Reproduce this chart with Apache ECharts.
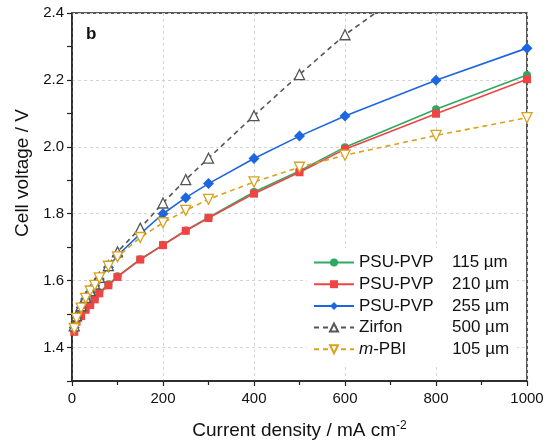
<!DOCTYPE html>
<html>
<head>
<meta charset="utf-8">
<script src="https://cdn.jsdelivr.net/npm/echarts@6/dist/echarts.min.js"></script>
<style>
  html, body { margin: 0; padding: 0; background: #fff; }
  #chart { width: 552px; height: 447px; }
</style>
</head>
<body>
<div id="chart"></div>
<script>
// current density, mA cm-2
const currentDensity = [5, 10, 20, 30, 40, 50, 60, 80, 100, 150, 200, 250, 300, 400, 500, 600, 800, 1000];

// cell voltage, V
const psuPvp115 = [1.450, 1.480, 1.497, 1.516, 1.530, 1.547, 1.565, 1.589, 1.613, 1.664, 1.707, 1.750, 1.789, 1.865, 1.928, 1.999, 2.112, 2.215];
const psuPvp210 = [1.447, 1.477, 1.494, 1.513, 1.527, 1.544, 1.562, 1.586, 1.611, 1.663, 1.706, 1.749, 1.787, 1.860, 1.924, 1.993, 2.099, 2.202];
const psuPvp255 = [1.460, 1.490, 1.520, 1.545, 1.565, 1.585, 1.605, 1.640, 1.675, 1.740, 1.800, 1.848, 1.890, 1.965, 2.032, 2.092, 2.199, 2.295];
const zirfon = [1.465, 1.495, 1.525, 1.550, 1.570, 1.590, 1.610, 1.645, 1.686, 1.757, 1.832, 1.902, 1.966, 2.093, 2.216, 2.335, 2.530];
const mPbi = [1.457, 1.487, 1.518, 1.547, 1.569, 1.586, 1.608, 1.643, 1.671, 1.729, 1.773, 1.810, 1.843, 1.895, 1.939, 1.975, 2.034, 2.087];

const seriesNames = ["PSU-PVP 115", "PSU-PVP 210", "PSU-PVP 255", "Zirfon 500", "m-PBI 105"];
const membranes = ["PSU-PVP", "PSU-PVP", "PSU-PVP", "Zirfon", "m-PBI"];
const thickness = ["115 µm", "210 µm", "255 µm", "500 µm", "105 µm"];

const font = 'Arial, "Liberation Sans", sans-serif';

function pairs(values) {
  return values.map((v, i) => [currentDensity[i], v]);
}

let chart = echarts.init(document.getElementById("chart"));

chart.setOption({
  animation: false,
  backgroundColor: "#fff",
  textStyle: { fontFamily: font },
  title: {
    text: "b",
    left: 81,
    top: 21,
    textStyle: { fontSize: 17, fontWeight: "bold", color: "#111", fontFamily: font }
  },
  grid: {
    left: 72,
    right: 25,
    top: 13,
    bottom: 66,
    show: true,
    borderColor: "#222",
    borderWidth: 1.5
  },
  legend: {
    orient: "vertical",
    left: 307,
    top: 248,
    padding: [6, 8, 6, 6],
    backgroundColor: "#fff",
    itemWidth: 40,
    itemHeight: 10,
    itemGap: 4.7,
    data: seriesNames,
    formatter: function(name) {
      let i = seriesNames.indexOf(name);
      // m-PBI: italic m
      if (membranes[i] === "m-PBI") {
        return "{it|m}{p|-PBI}{t|" + thickness[i] + "}";
      }
      return "{n|" + membranes[i] + "}{t|" + thickness[i] + "}";
    },
    textStyle: {
      fontSize: 17,
      color: "#111",
      fontFamily: font,
      rich: {
        n: { width: 93, fontSize: 17, fontFamily: font, lineHeight: 18 },
        it: { fontSize: 17, fontStyle: "italic", fontFamily: font, lineHeight: 18 },
        p: { width: 79, fontSize: 17, fontFamily: font, lineHeight: 18 },
        t: { fontSize: 17, fontFamily: font, lineHeight: 18 }
      }
    }
  },
  xAxis: {
    type: "value",
    min: 0,
    max: 1000,
    interval: 200,
    name: "Current density / mA cm{sup|-2}",
    nameLocation: "middle",
    nameGap: 39,
    nameTextStyle: {
      fontSize: 19,
      color: "#111",
      fontFamily: font,
      rich: { sup: { fontSize: 12, verticalAlign: "top", padding: [0, 0, 9, 0], color: "#111" } }
    },
    axisLine: { lineStyle: { color: "#222", width: 1.5 } },
    axisTick: { length: 5, lineStyle: { color: "#222", width: 1.2 } },
    minorTick: { show: true, splitNumber: 2, length: 4, lineStyle: { color: "#222", width: 1.2 } },
    axisLabel: {
      fontSize: 15,
      color: "#111",
      margin: 10,
      fontFamily: font,
      formatter: function(v) { return String(v); }
    },
    splitLine: { show: true, lineStyle: { type: [3, 3], color: "#d4d4d4", width: 1 } }
  },
  yAxis: {
    type: "value",
    min: 1.3,
    max: 2.4,
    interval: 0.1,
    name: "Cell voltage / V",
    nameLocation: "middle",
    nameGap: 37,
    nameTextStyle: { fontSize: 19, color: "#111", fontFamily: font, padding: [0, 0, 0, 48] },
    axisLine: { lineStyle: { color: "#222", width: 1.5 } },
    axisTick: { length: 5, lineStyle: { color: "#222", width: 1.2 } },
    axisLabel: {
      fontSize: 15,
      color: "#111",
      margin: 8,
      fontFamily: font,
      formatter: function(v) {
        let k = Math.round(v * 10);
        return k % 2 === 0 ? (k / 10).toFixed(1) : "";
      }
    },
    splitLine: {
      show: true,
      lineStyle: { type: [3, 3], color: ["rgba(0,0,0,0)", "#d4d4d4"], width: 1 }
    }
  },
  series: [
    {
      name: seriesNames[0],
      type: "line",
      data: pairs(psuPvp115),
      symbol: "circle",
      symbolSize: 8,
      color: "#2ea862",
      lineStyle: { width: 1.6 }
    },
    {
      name: seriesNames[1],
      type: "line",
      data: pairs(psuPvp210),
      symbol: "rect",
      symbolSize: 8,
      color: "#f04444",
      lineStyle: { width: 1.6 }
    },
    {
      name: seriesNames[2],
      type: "line",
      data: pairs(psuPvp255),
      symbol: "diamond",
      symbolSize: 11,
      color: "#1d66e0",
      lineStyle: { width: 1.6 }
    },
    {
      name: seriesNames[3],
      type: "line",
      data: pairs(zirfon),
      symbol: "triangle",
      symbolSize: 10,
      color: "#555",
      itemStyle: { color: "#fff", borderColor: "#555", borderWidth: 1.3 },
      lineStyle: { width: 1.6, type: [5, 4], color: "#555" },
      clip: true
    },
    {
      name: seriesNames[4],
      type: "line",
      data: pairs(mPbi),
      symbol: "triangle",
      symbolRotate: 180,
      symbolSize: 10,
      color: "#d9a21b",
      itemStyle: { color: "#fff", borderColor: "#d9a21b", borderWidth: 1.3 },
      lineStyle: { width: 1.6, type: [5, 4], color: "#d9a21b" }
    }
  ]
});
</script>
</body>
</html>
